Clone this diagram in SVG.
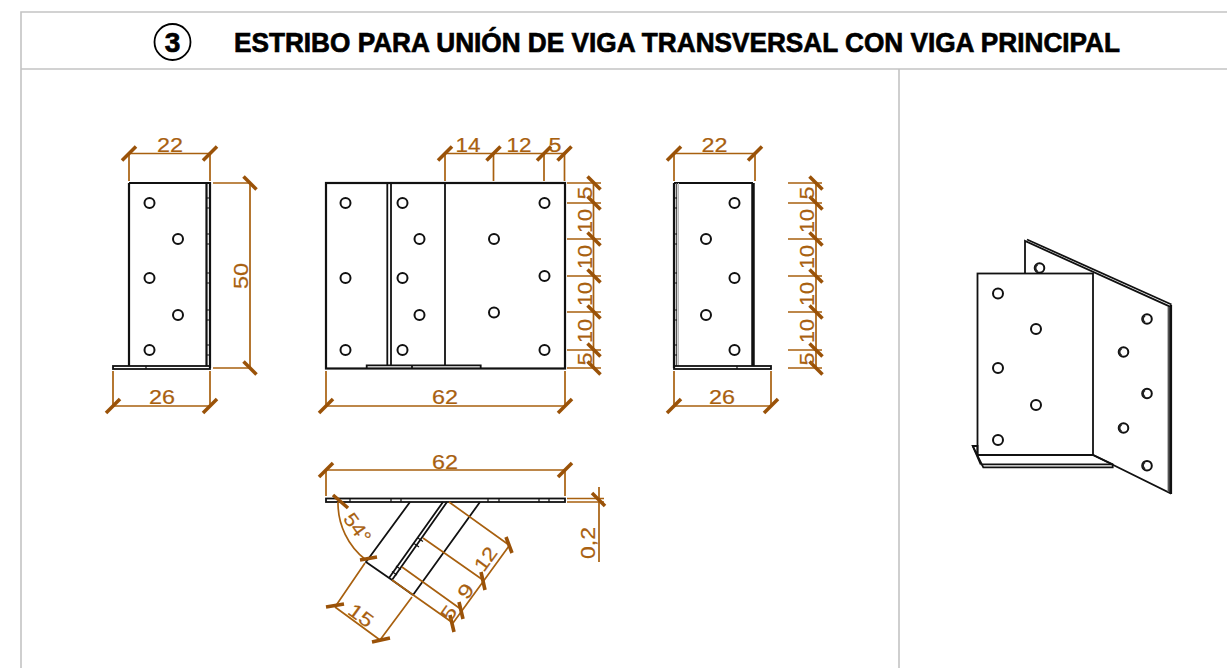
<svg xmlns="http://www.w3.org/2000/svg" width="1227" height="668" viewBox="0 0 1227 668">
<style>
.fr{fill:none;stroke:#c4c4c4;stroke-width:1.6}
.k{fill:none;stroke:#111;stroke-width:1.8}
.kk{fill:none;stroke:#111;stroke-width:2.2}
.t{fill:none;stroke:#111;stroke-width:1.2}
.h{fill:#fff;stroke:#111;stroke-width:2}
.d{fill:none;stroke:#a8600f;stroke-width:1.7}
.x{fill:none;stroke:#9a5208;stroke-width:3.6}
.n{font-family:"Liberation Sans",Arial,sans-serif;font-size:19.500px;fill:#a8600f;stroke:#a8600f;stroke-width:.2;text-anchor:middle}
.title{font-family:"Liberation Sans",Arial,sans-serif;font-weight:700;font-size:28px;fill:#000;stroke:#000;stroke-width:.7}
</style>
<defs>
<circle id="hole" r="5" class="h"/>
<path id="tick" d="M-7 7L7-7" class="x"/>
<path id="tickb" d="M-6.500-6.500L6.500 6.500" class="x"/>
<path id="edge" d="M0 198h3M0 208h3M0 234h3M0 244h3M0 273h3M0 283h3M0 310h3M0 320h3M0 345h3M0 355h3" class="t"/>
</defs>
<g id="frame">
<path class="fr" d="M1227 12H21V668M21 69H1227M899 69V668"/>
<circle cx="172.500" cy="42" r="18" fill="none" stroke="#000" stroke-width="1.800"/>
<text x="172.500" y="52" class="title" text-anchor="middle">3</text>
<text x="234" y="51.500" class="title" textLength="886" lengthAdjust="spacingAndGlyphs">ESTRIBO PARA UNIÓN DE VIGA TRANSVERSAL CON VIGA PRINCIPAL</text>
</g>
<g id="view-left">
<path class="kk" d="M129 183H210V368M129 183V366M206.500 183V366"/>
<rect x="113" y="366" width="97" height="3" class="k" fill="#fff"/>
<path class="t" d="M146 366v3"/>
<use href="#edge" x="207"/>
<use href="#hole" x="149.500" y="203"/><use href="#hole" x="178" y="239"/><use href="#hole" x="149.500" y="278"/><use href="#hole" x="178" y="315"/><use href="#hole" x="149.500" y="350"/>
<path class="d" d="M129 181V153.500M210 181V153.500M129 153.500H210M213 183H250M213 368H250M250 183V368M113 371V406M210 371V406M113 406H210"/>
<use href="#tick" x="129" y="153.500"/><use href="#tick" x="210" y="153.500"/><use href="#tickb" x="250" y="183"/><use href="#tickb" x="250" y="368"/><use href="#tick" x="113" y="406"/><use href="#tick" x="210" y="406"/>
<text class="n" x="170" y="152" textLength="26" lengthAdjust="spacingAndGlyphs">22</text>
<text class="n" x="162" y="403.500" textLength="26" lengthAdjust="spacingAndGlyphs">26</text>
<text class="n" transform="translate(248 276) rotate(-90)" textLength="26" lengthAdjust="spacingAndGlyphs">50</text>
</g>
<g id="view-center">
<rect x="326" y="183" width="239" height="185.500" class="kk" fill="#fff"/>
<path class="k" d="M387.300 183V366M391 183V366M445 183V366"/>
<path class="k" d="M366.700 368V365.300H480.700V368M412 365.300V368"/>
<use href="#hole" x="345.500" y="203"/><use href="#hole" x="345.500" y="278"/><use href="#hole" x="345.500" y="350"/>
<use href="#hole" x="402.500" y="203"/><use href="#hole" x="402.500" y="278"/><use href="#hole" x="402.500" y="350"/><use href="#hole" x="419.500" y="239"/><use href="#hole" x="419.500" y="315"/>
<use href="#hole" x="494" y="239"/><use href="#hole" x="494" y="312.500"/>
<use href="#hole" x="544.500" y="203"/><use href="#hole" x="544.500" y="276"/><use href="#hole" x="544.500" y="350"/>
<path class="d" d="M445 181V153.500M493.500 181V153.500M544 181V153.500M564.500 181V153.500M445 153.500H564.500"/>
<path class="d" d="M567 183H601M567 203H601M567 239H601M567 276H601M567 312H601M567 350H601M567 368H601M593.500 183V368"/>
<path class="d" d="M326 371V406M565 371V406M326 406H565"/>
<use href="#tick" x="445" y="153.500"/><use href="#tick" x="493.500" y="153.500"/><use href="#tick" x="544" y="153.500"/><use href="#tick" x="564.500" y="153.500"/>
<use href="#tickb" x="594" y="183"/><use href="#tickb" x="594" y="203"/><use href="#tickb" x="594" y="239"/><use href="#tickb" x="594" y="276"/><use href="#tickb" x="594" y="312"/><use href="#tickb" x="594" y="350"/><use href="#tickb" x="594" y="368"/>
<use href="#tick" x="326" y="406"/><use href="#tick" x="565" y="406"/>
<text class="n" x="468" y="151.500" textLength="25" lengthAdjust="spacingAndGlyphs">14</text>
<text class="n" x="519" y="151.500" textLength="25" lengthAdjust="spacingAndGlyphs">12</text>
<text class="n" x="555" y="151.500" textLength="13" lengthAdjust="spacingAndGlyphs">5</text>
<text class="n" x="445" y="403.500" textLength="26" lengthAdjust="spacingAndGlyphs">62</text>
<g>
<text class="n" transform="translate(592 193) rotate(-90)" textLength="13" lengthAdjust="spacingAndGlyphs">5</text>
<text class="n" transform="translate(592 221) rotate(-90)" textLength="24" lengthAdjust="spacingAndGlyphs">10</text>
<text class="n" transform="translate(592 257) rotate(-90)" textLength="24" lengthAdjust="spacingAndGlyphs">10</text>
<text class="n" transform="translate(592 294) rotate(-90)" textLength="24" lengthAdjust="spacingAndGlyphs">10</text>
<text class="n" transform="translate(592 331) rotate(-90)" textLength="24" lengthAdjust="spacingAndGlyphs">10</text>
<text class="n" transform="translate(592 359) rotate(-90)" textLength="13" lengthAdjust="spacingAndGlyphs">5</text>
</g>
</g>
<g id="view-right">
<path class="kk" d="M674 183H753M674 183V368"/>
<path stroke="#111" stroke-width="3.500" d="M753 183V366"/>
<path d="M676.500 183V366" stroke="#555" stroke-width="1.500"/>
<path d="M678.500 183V366" stroke="#bbb" stroke-width="1"/>
<rect x="674" y="366" width="97" height="3" class="k" fill="#fff"/>
<path class="t" d="M737 366v3"/>
<use href="#edge" x="674"/>
<use href="#hole" x="734.500" y="203"/><use href="#hole" x="706" y="239"/><use href="#hole" x="734.500" y="278"/><use href="#hole" x="706" y="315"/><use href="#hole" x="734.500" y="350"/>
<path class="d" d="M674 181V153.500M755 181V153.500M674 153.500H755M674 371V406M771 371V406M674 406H771"/>
<path class="d" d="M788 183H822M788 203H822M788 239H822M788 276H822M788 312H822M788 350H822M788 368H822M816 183V368"/>
<use href="#tick" x="674" y="153.500"/><use href="#tick" x="755" y="153.500"/><use href="#tick" x="674" y="406"/><use href="#tick" x="771" y="406"/>
<use href="#tickb" x="816" y="183"/><use href="#tickb" x="816" y="203"/><use href="#tickb" x="816" y="239"/><use href="#tickb" x="816" y="276"/><use href="#tickb" x="816" y="312"/><use href="#tickb" x="816" y="350"/><use href="#tickb" x="816" y="368"/>
<text class="n" x="714.500" y="152" textLength="26" lengthAdjust="spacingAndGlyphs">22</text>
<text class="n" x="722" y="403.500" textLength="26" lengthAdjust="spacingAndGlyphs">26</text>
<text class="n" transform="translate(814 193) rotate(-90)" textLength="13" lengthAdjust="spacingAndGlyphs">5</text>
<text class="n" transform="translate(814 221) rotate(-90)" textLength="24" lengthAdjust="spacingAndGlyphs">10</text>
<text class="n" transform="translate(814 257) rotate(-90)" textLength="24" lengthAdjust="spacingAndGlyphs">10</text>
<text class="n" transform="translate(814 294) rotate(-90)" textLength="24" lengthAdjust="spacingAndGlyphs">10</text>
<text class="n" transform="translate(814 331) rotate(-90)" textLength="24" lengthAdjust="spacingAndGlyphs">10</text>
<text class="n" transform="translate(814 359) rotate(-90)" textLength="13" lengthAdjust="spacingAndGlyphs">5</text>
</g>
<g id="view-bottom">
<rect x="326" y="498.500" width="239" height="3.500" class="k" fill="#fff"/>
<path class="t" d="M350 498.500v3.500M391 498.500v3.500M401 498.500v3.500M488 498.500v3.500M499 498.500v3.500M539 498.500v3.500M549 498.500v3.500"/>
<path class="k" d="M410 502L366 562L392 580M443 502L389 578M447 502L392 580M480 502L413 595M392 580L413 595"/>
<path class="t" d="M418 538l5 3.500M414 543.500l5 3.500M396 566l5 3.500M392 571.500l5 3.500"/>
<path class="d" d="M326 496V470M565 496V470M326 470H565"/>
<path class="d" d="M567 498.500H604M567 502H604M599 487V562"/>
<path class="d" d="M338 502A72 72 0 0 0 366 560"/>
<path class="d" d="M365 563L335 607M412 597L380 640M335 607L380 640"/>
<path class="d" d="M392 580L453 623M402 567L462 610M423 538L483 580M449 502L509 545M453 623L509 546"/>
<use href="#tick" x="326" y="470"/><use href="#tick" x="565" y="470"/>
<use href="#tickb" x="598.500" y="499.500"/>
<path class="x" d="M333 495L348 508M360 560L377 557M326 607L344 604M372 642L390 638M450 615L454 632M459 602L463 619M481 572L485 590M506 537L512 553"/>
<text class="n" x="445" y="468.500" textLength="26" lengthAdjust="spacingAndGlyphs">62</text>
<text class="n" transform="translate(595 543) rotate(-90)" textLength="32" lengthAdjust="spacingAndGlyphs">0,2</text>
<text class="n" transform="translate(352 532) rotate(54)" textLength="32" lengthAdjust="spacingAndGlyphs">54°</text>
<text class="n" transform="translate(357 621) rotate(36)" textLength="26" lengthAdjust="spacingAndGlyphs">15</text>
<text class="n" transform="translate(454 617) rotate(-54)" textLength="14" lengthAdjust="spacingAndGlyphs">5</text>
<text class="n" transform="translate(471 595) rotate(-54)" textLength="14" lengthAdjust="spacingAndGlyphs">9</text>
<text class="n" transform="translate(491 563) rotate(-54)" textLength="25" lengthAdjust="spacingAndGlyphs">12</text>
</g>
<g id="view-3d">
<path class="k" fill="#fff" d="M1025 273V241L1170 306.700V493L1093 455"/>
<path class="k" d="M1027 239.500L1171.500 304.500"/>
<path class="kk" d="M1171 305V494"/><path stroke="#555" stroke-width="1.800" d="M1168.500 307V492"/>
<rect x="977.500" y="273.500" width="115.500" height="181.500" class="k" fill="#fff"/>
<path class="k" fill="#fff" d="M977.500 455H1093L1112.700 464.300V467.300H983.300L972.700 446H977.500Z"/>
<path class="k" d="M980.700 464.300H1112.700M972.700 446L980.700 464.300"/>
<use href="#hole" x="998" y="293.500"/><use href="#hole" x="1036" y="329"/><use href="#hole" x="998" y="368"/><use href="#hole" x="1036" y="405"/><use href="#hole" x="998" y="440"/>
<g class="h" fill="#fff">
<circle cx="1039.500" cy="268" r="4.800"/><circle cx="1147" cy="319" r="4.800"/><circle cx="1123.500" cy="352" r="4.800"/><circle cx="1147" cy="393.500" r="4.800"/><circle cx="1123.500" cy="428" r="4.800"/><circle cx="1147" cy="465.700" r="4.800"/>
</g>
<path stroke="#222" stroke-width="2" fill="none" d="M1037.500 264.500A4 4 0 0 0 1037.500 271.500M1145 315.500A4 4 0 0 0 1145 322.500M1121.500 348.500A4 4 0 0 0 1121.500 355.500M1145 390A4 4 0 0 0 1145 397M1121.500 424.500A4 4 0 0 0 1121.500 431.500M1145 462A4 4 0 0 0 1145 469"/>
</g>
</svg>
